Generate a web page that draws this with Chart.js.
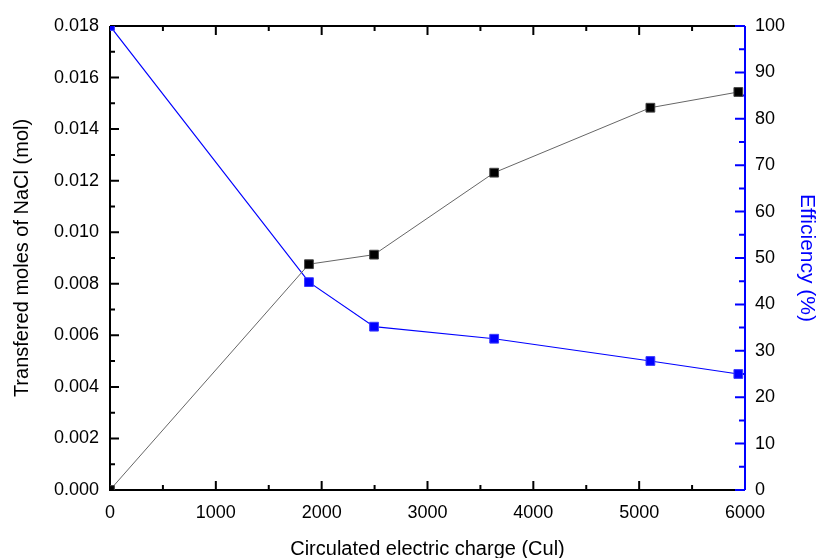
<!DOCTYPE html>
<html>
<head>
<meta charset="utf-8">
<script src="https://cdn.jsdelivr.net/npm/chart.js@4.4.1/dist/chart.umd.min.js"></script>
<style>
  html, body { margin: 0; padding: 0; background: #fff; }
  #wrap { width: 819px; height: 558px; }
</style>
</head>
<body>
<div id="wrap"><canvas id="c" width="819" height="558"></canvas></div>
<script>
// Circulated charge (C) for each run
const charge = [0, 1880, 2495, 3630, 5106, 5937];
// Moles of NaCl transferred
const moles = [0, 0.00876, 0.00913, 0.01231, 0.01483, 0.01544];
// Current efficiency (%)
const efficiency = [100, 44.8, 35.2, 32.6, 27.8, 25.0];

// Axis ranges and tick spacing
const xRange = [0, 6000], xMajor = 1000, xMinor = 500;
const yRange = [0, 0.018], yMajor = 0.002, yMinor = 0.001;
const effRange = [0, 100], effMajor = 10, effMinor = 5;

const BLUE = '#0000ff';
const FONT = 'Arial, "Liberation Sans", sans-serif';

function tickValues(range, step) {
  const out = [];
  const n = Math.round((range[1] - range[0]) / step);
  for (let i = 0; i <= n; i++) out.push(range[0] + i * step);
  return out;
}
function isMajor(v, range, major) {
  const k = (v - range[0]) / major;
  return Math.abs(k - Math.round(k)) < 1e-6;
}

// Box frame with inward-pointing major/minor ticks
const framePlugin = {
  id: 'frame',
  beforeDatasetsDraw(chart) {
    const { ctx, chartArea: a, scales } = chart;
    ctx.save();
    ctx.lineWidth = 2;
    ctx.lineCap = 'butt';

    ctx.strokeStyle = '#000';
    ctx.beginPath();
    ctx.moveTo(a.left, a.top); ctx.lineTo(a.right, a.top);
    ctx.moveTo(a.left, a.top); ctx.lineTo(a.left, a.bottom); ctx.lineTo(a.right, a.bottom);
    // x ticks on bottom and top
    tickValues(xRange, xMinor).forEach(v => {
      const px = scales.x.getPixelForValue(v);
      const len = isMajor(v, xRange, xMajor) ? 9 : 5;
      ctx.moveTo(px, a.bottom); ctx.lineTo(px, a.bottom - len);
      ctx.moveTo(px, a.top); ctx.lineTo(px, a.top + len);
    });
    // left y ticks
    tickValues(yRange, yMinor).forEach(v => {
      const py = scales.y.getPixelForValue(v);
      const len = isMajor(v, yRange, yMajor) ? 9 : 5;
      ctx.moveTo(a.left, py); ctx.lineTo(a.left + len, py);
    });
    ctx.stroke();

    // right (efficiency) axis in blue
    ctx.strokeStyle = BLUE;
    ctx.beginPath();
    ctx.moveTo(a.right, a.top); ctx.lineTo(a.right, a.bottom);
    tickValues(effRange, effMinor).forEach(v => {
      const py = scales.y2.getPixelForValue(v);
      const len = isMajor(v, effRange, effMajor) ? 10 : 6;
      ctx.moveTo(a.right, py); ctx.lineTo(a.right - len, py);
    });
    ctx.stroke();
    ctx.restore();
  }
};

const tickFont = { family: FONT, size: 18 };
const titleFont = { family: FONT, size: 20 };

new Chart(document.getElementById('c'), {
  type: 'scatter',
  data: {
    datasets: [
      {
        label: 'Transfered moles of NaCl',
        data: charge.map((x, i) => ({ x, y: moles[i] })),
        yAxisID: 'y',
        showLine: true,
        borderColor: '#666',
        borderWidth: 1,
        backgroundColor: '#000',
        pointStyle: 'rect',
        pointRadius: 6.2,
        pointBorderColor: '#444',
        pointBorderWidth: 1,
        pointHoverRadius: 6.2
      },
      {
        label: 'Efficiency',
        data: charge.map((x, i) => ({ x, y: efficiency[i] })),
        yAxisID: 'y2',
        showLine: true,
        borderColor: BLUE,
        borderWidth: 1.2,
        backgroundColor: BLUE,
        pointStyle: 'rect',
        pointRadius: 6.2,
        pointBorderColor: '#3a3aff',
        pointBorderWidth: 1,
        pointHoverRadius: 6.2
      }
    ]
  },
  options: {
    responsive: false,
    animation: false,
    events: [],
    layout: { padding: { top: 26, left: 0, right: 0, bottom: 0 } },
    plugins: {
      legend: { display: false },
      tooltip: { enabled: false }
    },
    scales: {
      x: {
        type: 'linear',
        position: 'bottom',
        min: xRange[0], max: xRange[1],
        grid: { display: false, drawTicks: false },
        border: { display: false },
        ticks: {
          stepSize: xMajor, padding: 12, color: '#000', font: tickFont,
          callback: v => String(v)
        },
        title: {
          display: true, text: 'Circulated electric charge (Cul)',
          color: '#000', font: titleFont, padding: { top: 0, bottom: -3 }
        },
        afterFit(s) { s.height = 68; }
      },
      y: {
        type: 'linear',
        position: 'left',
        min: yRange[0], max: yRange[1],
        grid: { display: false, drawTicks: false },
        border: { display: false },
        ticks: {
          stepSize: yMajor, padding: 11, color: '#000', font: tickFont,
          callback: v => v.toFixed(3)
        },
        title: {
          display: true, text: 'Transfered moles of NaCl (mol)',
          color: '#000', font: titleFont, padding: { top: 10, bottom: 0 }
        },
        afterFit(s) { s.width = 110; }
      },
      y2: {
        type: 'linear',
        position: 'right',
        min: effRange[0], max: effRange[1],
        grid: { display: false, drawTicks: false },
        border: { display: false },
        ticks: {
          stepSize: effMajor, padding: 10, color: '#000', font: tickFont,
          callback: v => String(v)
        },
        title: {
          display: true, text: 'Efficiency (%)',
          color: BLUE, font: { family: FONT, size: 21 }, padding: { top: 0, bottom: 0 }
        },
        afterFit(s) { s.width = 74; }
      }
    }
  },
  plugins: [framePlugin]
});
</script>
</body>
</html>
